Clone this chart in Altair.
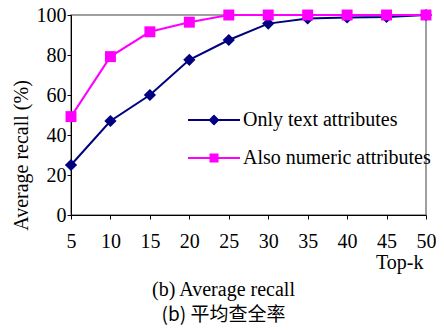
import altair as alt
import pandas as pd

# ---- data ----
top_k = [5, 10, 15, 20, 25, 30, 35, 40, 45, 50]
only_text = [25, 47, 60, 77.6, 87.5, 95.7, 98.3, 98.8, 99, 100]
also_numeric = [49.2, 79.2, 91.6, 96.4, 100, 100, 100, 100, 100, 100]
series_names = ["Only text attributes", "Also numeric attributes"]
x_ticks = [5, 10, 15, 20, 25, 30, 35, 40, 45, 50]
y_ticks = [0, 20, 40, 60, 80, 100]

colors = ["#000080", "#FF00FF"]
point_shapes = ["diamond", "square"]
point_sizes = [150, 120]
legend_shapes = [
    "M-2.6,-0.1H2.6V0.1H-2.6Z M0,-0.55L0.55,0L0,0.55L-0.55,0Z",
    "M-2.6,-0.1H2.6V0.1H-2.6Z M-0.45,-0.45H0.45V0.45H-0.45Z",
]

rows = []
for k, a, b in zip(top_k, only_text, also_numeric):
    rows.append({"k": k, "recall": a, "series": series_names[0]})
    rows.append({"k": k, "recall": b, "series": series_names[1]})
df = pd.DataFrame(rows)

FONT = "Liberation Serif"
CJK_FONT = "Noto Sans CJK SC"

x_enc = alt.X(
    "k:Q",
    scale=alt.Scale(domain=[5, 50], nice=False, zero=False),
    axis=alt.Axis(
        values=x_ticks, title="Top-k", titleAnchor="end", titleAlign="right",
        titleX=352, titleY=53, titleBaseline="alphabetic",
        titleFont=FONT, titleFontSize=20, titleFontWeight="normal", titleColor="black",
        labelFont=FONT, labelFontSize=20, labelColor="black", labelPadding=12,
        tickSize=4, tickColor="black", domainColor="black", grid=False,
        labelFlush=False,
    ),
)
y_enc = alt.Y(
    "recall:Q",
    scale=alt.Scale(domain=[0, 100], nice=False),
    axis=alt.Axis(
        values=y_ticks, title="Average recall (%)",
        titleX=-44, titleY=140, titleAngle=270, titleAlign="center",
        titleBaseline="alphabetic",
        titleFont=FONT, titleFontSize=20, titleFontWeight="normal", titleColor="black",
        labelFont=FONT, labelFontSize=20, labelColor="black", labelPadding=1,
        tickSize=4, tickColor="black", domainColor="black", grid=False,
        labelFlush=False,
    ),
)

color_scale = alt.Scale(domain=series_names, range=colors)

lines = alt.Chart(df).mark_line(strokeWidth=2).encode(
    x=x_enc, y=y_enc,
    color=alt.Color("series:N", scale=color_scale, legend=None),
)

points = alt.Chart(df).mark_point(filled=True, opacity=1).encode(
    x=x_enc, y=y_enc,
    color=alt.Color("series:N", scale=color_scale, legend=None),
    shape=alt.Shape("series:N", scale=alt.Scale(domain=series_names, range=point_shapes), legend=None),
    size=alt.Size("series:N", scale=alt.Scale(domain=series_names, range=point_sizes), legend=None),
)

legend_kwargs = dict(
    orient="none", legendX=117, legendY=95, title=None, padding=0,
    labelFont=FONT, labelFontSize=20, labelColor="black", labelLimit=400,
    symbolSize=400, symbolOffset=16, labelOffset=19, rowPadding=18,
    symbolStrokeWidth=0, symbolOpacity=1,
)

legend_layer = alt.Chart(df).mark_point(filled=True, opacity=1, size=400).transform_filter(
    "datum.k < 0"
).encode(
    x=x_enc, y=y_enc,
    color=alt.Color("series:N", scale=color_scale, legend=alt.Legend(**legend_kwargs)),
    shape=alt.Shape("series:N", scale=alt.Scale(domain=series_names, range=legend_shapes),
                    legend=alt.Legend(**legend_kwargs)),
)

chart = alt.layer(lines, points, legend_layer).resolve_scale(
    color="independent", shape="independent", size="independent"
).resolve_legend(
    color="independent", shape="independent", size="independent"
).properties(
    width=355,
    height=200,
    autosize=alt.AutoSizeParams(type="none"),
    padding={"left": 63, "top": 7, "right": 10, "bottom": 112},
    title=alt.TitleParams(
        text="(b) Average recall",
        subtitle="(b)  平均查全率",
        orient="bottom", anchor="middle", frame="group", dx=-25, offset=8,
        font=FONT, fontSize=20, fontWeight="normal", color="black",
        subtitleFont=CJK_FONT, subtitleFontSize=19,
        subtitleColor="black", subtitlePadding=6,
    ),
).configure_view(
    stroke="#808080", strokeWidth=1.5
)

chart.save("out.html", embed_options={"renderer": "svg", "actions": False})
